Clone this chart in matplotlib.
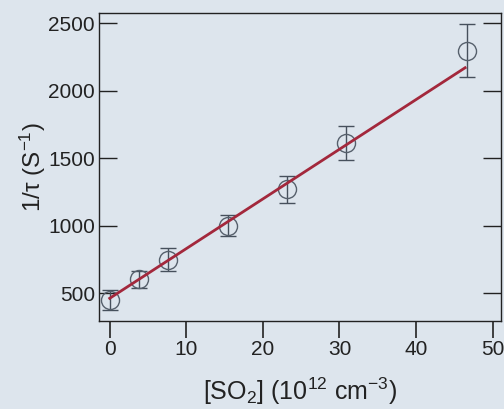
import matplotlib
matplotlib.use("Agg")
import matplotlib.pyplot as plt
import numpy as np

plt.rcParams["font.family"] = ["Liberation Sans", "DejaVu Sans"]
plt.rcParams["mathtext.fontset"] = "custom"
plt.rcParams["mathtext.rm"] = "Liberation Sans"
plt.rcParams["mathtext.it"] = "Liberation Sans:italic"

# [SO2] in 1e12 cm^-3 and measured 1/tau in s^-1
so2 = [0.0, 3.8, 7.6, 15.4, 23.2, 30.9, 46.6]
rate = [450, 604, 747, 1000, 1272, 1611, 2297]
rate_err = [75, 62, 85, 78, 100, 127, 195]

# straight-line fit
fit_x = [0.0, 46.4]
fit_intercept = 463
fit_slope = 36.8

bg = "#dde5ed"
fig = plt.figure(figsize=(5.04, 4.09), dpi=100, facecolor=bg)
ax = fig.add_axes([0.1964, 0.2152, 0.7986, 0.753])
ax.set_facecolor(bg)

ax.errorbar(so2, rate, yerr=rate_err, fmt="o", ms=13, mfc="none",
            mec="#56606c", mew=1.0, ecolor="#46505c", elinewidth=1.0,
            capsize=6, capthick=1.0, zorder=2)

fx = np.array(fit_x)
ax.plot(fx, fit_intercept + fit_slope * fx, color="#a3283c", lw=2.0, zorder=3)

ax.set_xlim(-1.4, 51.15)
ax.set_ylim(295, 2576)
ax.set_xticks([0, 10, 20, 30, 40, 50])
ax.set_yticks([500, 1000, 1500, 2000, 2500])

for s in ax.spines.values():
    s.set_color("#222222")
    s.set_linewidth(1.0)

ax.tick_params(axis="y", direction="in", length=13, width=1, left=True,
               right=True, labelsize=15, pad=3, colors="#222222")
ax.tick_params(axis="x", direction="out", length=12, width=1.2, top=False,
               labelsize=15, pad=1.5, colors="#222222")

ax.set_ylabel("1/τ (S$^{-1}$)", fontsize=17.5, labelpad=0, color="#222222")
ax.set_xlabel("[SO$_2$] (10$^{12}$ cm$^{-3}$)", fontsize=18, labelpad=12,
              color="#222222")

fig.savefig("out.png", dpi=100, facecolor=bg)
